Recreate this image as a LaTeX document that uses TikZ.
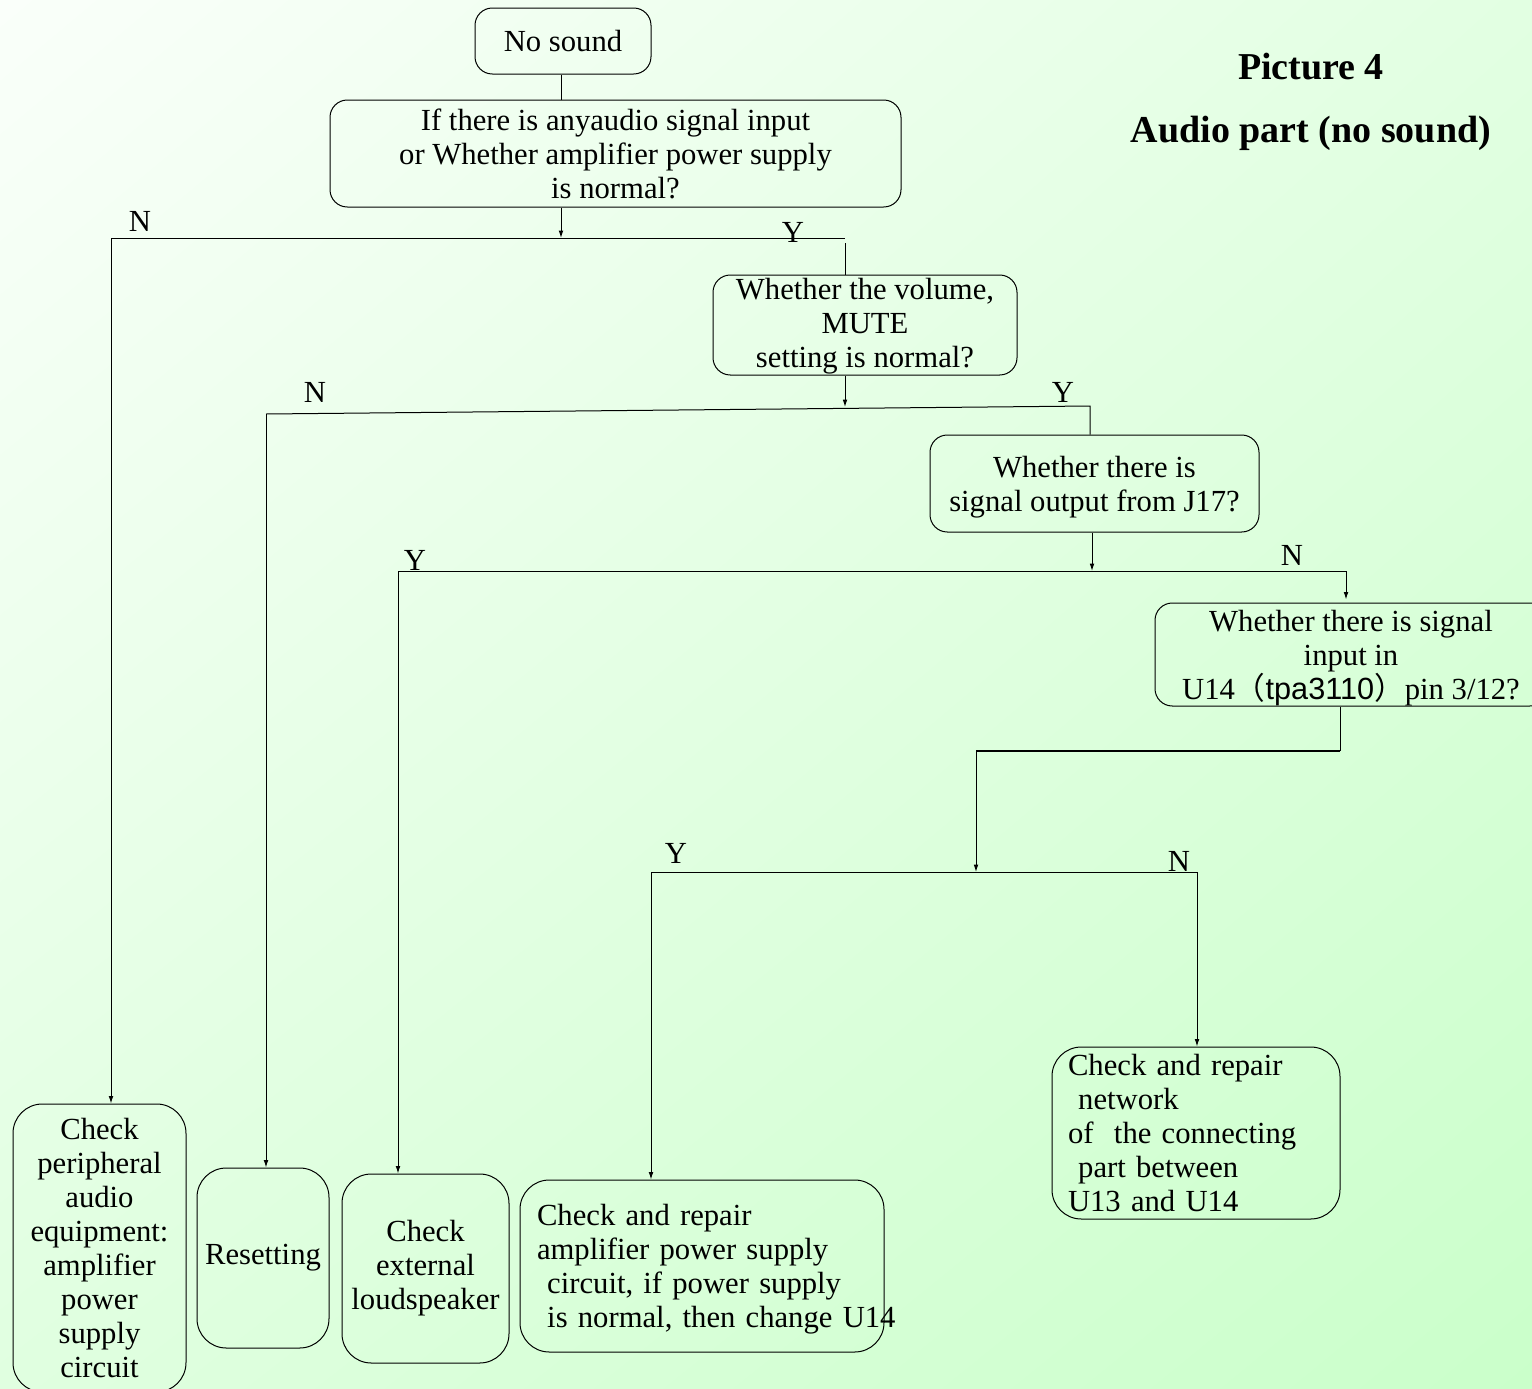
\documentclass[tikz,border=0pt]{standalone}
\usepackage{fontspec}
\setmainfont{Liberation Serif}
\newfontfamily\cjkfont{Noto Sans CJK SC}
\newfontfamily\sansfont{Liberation Sans}
\usetikzlibrary{arrows.meta,calc,shadings}
\begin{document}
\begin{tikzpicture}[x=0.75pt,y=-0.75pt,
  every node/.style={font=\fontsize{23}{25.5}\selectfont},
  sz/.style 2 args={minimum width=#1*0.75pt, minimum height=#2*0.75pt},
  qbox/.style={draw, rounded corners=13pt, align=center, inner sep=2pt, line width=0.75pt},
  bbox/.style={draw, rounded corners=22pt, align=center, inner sep=2pt, line width=0.75pt},
  lbl/.style={inner sep=0pt},
  titlestyle/.style={inner sep=0pt, font=\fontsize{28.5}{34}\selectfont\bfseries},
  ln/.style={line width=0.75pt},
  arr/.style={ln, -{Latex[length=5.5pt,width=3.5pt]}},
]
\definecolor{bgA}{RGB}{250,255,250}
\definecolor{bgB}{RGB}{226,255,226}
\definecolor{bgC}{RGB}{224,255,224}
\definecolor{bgD}{RGB}{202,255,202}
\useasboundingbox (0,0) rectangle (1532,1389);
\shade[upper left=bgA, upper right=bgB, lower left=bgC, lower right=bgD] (0,0) rectangle (1532,1389);
\clip (0,0) rectangle (1532,1389);

% title
\node[titlestyle] (t1) at (1311,67) {Picture 4};
\node[titlestyle] (t2) at (1311,133) {Audio part (no sound)};

% decision boxes
\node[qbox, sz={176}{66}] (nosound) at (563,41) {No sound};
\node[qbox, sz={571}{107}] (q1) at (615.5,153.5) {If there is anyaudio signal input\\or Whether amplifier power supply\\is normal?};
\node[qbox, sz={304}{100}, inner ysep=0pt] (q2) at (865,325) {\rule{0pt}{18pt}Whether the volume,\\MUTE\\setting is normal?};
\node[qbox, sz={329}{97}, inner ysep=0pt] (q3) at (1094.5,483.5) {\rule{0pt}{21.8pt}Whether there is\\signal output from J17?};
\node[qbox, sz={392}{103}, inner ysep=0pt] (q4) at (1351,654.5) {\rule{0pt}{21pt}Whether there is signal\\input in\\U14{\cjkfont （}{\sansfont tpa3110}{\cjkfont ）}pin 3/12?};

% result boxes
\node[bbox, sz={173}{288}] (b1) at (99.5,1248) {Check\\peripheral\\audio\\equipment:\\amplifier\\power\\supply\\circuit};
\node[bbox, sz={132}{180}] (b2) at (263,1258) {Resetting};
\node[bbox, sz={167}{189}] (b3) at (425.5,1268.5) {Check\\external\\loudspeaker};
\node[bbox, minimum height=172*0.75pt, align=left, text width=330*0.75pt, inner xsep=17*0.75pt, inner ysep=0pt] (b4) at (702,1266) {\rule{0pt}{20pt}\mbox{Check and repair}\\\mbox{amplifier power supply}\\\mbox{\ circuit, if power supply}\\\mbox{\ is normal, then change U14}};
\node[bbox, minimum height=172*0.75pt, align=left, text width=256*0.75pt, inner xsep=16*0.75pt, inner ysep=0pt] (b5) at (1196,1133) {\mbox{Check and repair}\\\mbox{\ network}\\\mbox{of\ \ the connecting}\\\mbox{\ part between}\\\mbox{U13 and U14}};

% junction points
\coordinate (j1) at (561,238);
\coordinate (j1l) at (111,238);
\coordinate (j1r) at (845,238);
\coordinate (j2) at (845,407);
\coordinate (j2l) at (266,414);
\coordinate (j2r) at (1090,406);
\coordinate (j3) at (1092,571);
\coordinate (j3l) at (398,571);
\coordinate (j3r) at (1346,571);
\coordinate (k1) at (1340,751);
\coordinate (k2) at (976,751);
\coordinate (j4) at (976,872);
\coordinate (j4l) at (651,872);
\coordinate (j4r) at (1197,872);

% connectors
\draw[ln] (nosound.south -| j1) -- (q1.north -| j1);
\draw[arr] (q1.south -| j1) -- (j1);
\draw[ln] (j1l) -- (j1r);
\draw[ln] ($(j1r)+(0,5)$) -- (q2.north -| j1r);
\draw[arr] (j1l) -- (b1.north -| j1l);

\draw[arr] (q2.south -| j2) -- (j2);
\draw[ln] (j2l) -- (j2r) -- (q3.north -| j2r);
\draw[arr] (j2l) -- (b2.north -| j2l);

\draw[arr] (q3.south -| j3) -- (j3);
\draw[ln] (j3l) -- (j3r);
\draw[arr] (j3r) -- ($(q4.north -| j3r)+(0,-3)$);
\draw[arr] (j3l) -- (b3.north -| j3l);

\draw[ln] (q4.south -| k1) -- (k1);
\draw[line width=1.5pt] (k1) -- (k2);
\draw[arr] (k2) -- (j4);
\draw[ln] (j4l) -- (j4r);
\draw[arr] (j4l) -- (b4.north -| j4l);
\draw[arr] (j4r) -- (b5.north -| j4r);

% branch labels
\node[lbl] (n1) at (140,221) {N};
\node[lbl] (y1) at (793,232) {Y};
\node[lbl] (n2) at (315,392) {N};
\node[lbl] (y2) at (1063,392) {Y};
\node[lbl] (y3) at (415,560) {Y};
\node[lbl] (n3) at (1292,555) {N};
\node[lbl] (y4) at (676,853) {Y};
\node[lbl] (n4) at (1179,861) {N};
\end{tikzpicture}
\end{document}
